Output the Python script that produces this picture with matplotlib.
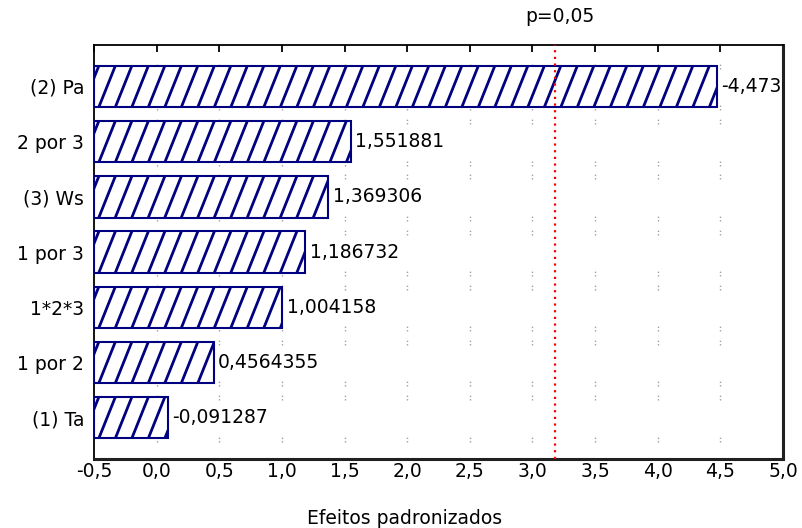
import numpy as np
import matplotlib.pyplot as plt
from matplotlib.collections import LineCollection

# Pareto chart of standardized effects (Statistica style)
factors = ["(1) Ta", "1 por 2", "1*2*3", "1 por 3", "(3) Ws", "2 por 3", "(2) Pa"]
effects = [-0.091287, 0.4564355, 1.004158, 1.186732, 1.369306, 1.551881, -4.473068]
labels = ["-0,091287", "0,4564355", "1,004158", "1,186732", "1,369306", "1,551881", "-4,473068"]
p_crit = 3.182446
xticks = [-0.5, 0.0, 0.5, 1.0, 1.5, 2.0, 2.5, 3.0, 3.5, 4.0, 4.5, 5.0]

plt.rcParams['font.family'] = ['DejaVu Sans']
fs = 13.5
navy = '#000080'

fig = plt.figure(figsize=(8.02, 5.28), dpi=100)
ax = fig.add_axes([94 / 802, 1 - 459 / 528, (783 - 94) / 802, (459 - 45) / 528])
xmin, xmax = -0.5, 5.0
ymin, ymax = -0.75, 6.75
ax.set_xlim(xmin, xmax)
ax.set_ylim(ymin, ymax)

ypos = list(range(len(factors)))
bar_h = 0.75
bars = ax.barh(ypos, [abs(v) - xmin for v in effects], height=bar_h, left=xmin,
               color='white', edgecolor=navy, linewidth=1.5, zorder=3)

# steep hatch like the original (about 68 degrees)
px_x = (xmax - xmin) / 689
px_y = (ymax - ymin) / 414
step = 16.5 * px_x
for b in bars:
    y0 = b.get_y()
    y1 = y0 + b.get_height()
    dx = 0.4 * (b.get_height() / px_y) * px_x
    starts = np.arange(xmin - 2 * dx + 0.3 * step, xmax, step)
    segs = [[(s, y0), (s + dx, y1)] for s in starts]
    lc = LineCollection(segs, colors=navy, linewidths=2.0, zorder=3.5)
    ax.add_collection(lc)
    lc.set_clip_path(b)

for y, v, lab in zip(ypos, effects, labels):
    ax.text(abs(v) + 0.035, y, lab, va='center', ha='left', fontsize=fs,
            zorder=4, clip_on=True)

# sparse dotted grid marks at the row edges
for x in xticks[1:-1]:
    for y in ypos:
        for e in (y - bar_h / 2, y + bar_h / 2):
            ax.plot([x, x], [e - 0.06, e + 0.06], color='#a0a0a0',
                    linestyle=(0, (1, 1.5)), linewidth=1, zorder=1)

ax.axvline(p_crit, color='red', linestyle=(0, (1, 2)), linewidth=1.6, zorder=5)
ax.text(p_crit + 0.04, 1.045, "p=0,05", transform=ax.get_xaxis_transform(),
        ha='center', va='bottom', fontsize=fs)

ax.set_xticks(xticks)
ax.set_xticklabels([f"{t:.1f}".replace('.', ',') for t in xticks], fontsize=fs)
ax.set_yticks(ypos)
ax.set_yticklabels(factors, fontsize=fs)
ax.tick_params(axis='x', bottom=False, top=True, direction='in', length=5,
               width=1.3, pad=2)
ax.tick_params(axis='y', left=False, length=0, pad=7)

for side in ['top', 'left']:
    ax.spines[side].set_linewidth(1.3)
for side in ['bottom', 'right']:
    ax.spines[side].set_linewidth(2.2)
    ax.spines[side].set_color('#202020')

fig.text(0.504, 1 - 524 / 528, "Efeitos padronizados", ha='center',
         va='baseline', fontsize=fs)

fig.savefig("out.png", dpi=100)
